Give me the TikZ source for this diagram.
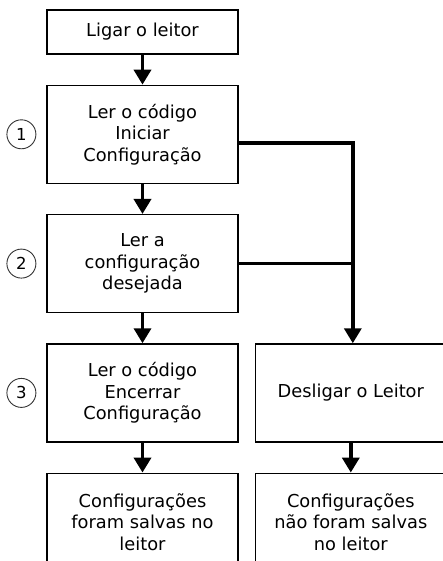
\documentclass[tikz,border=0pt]{standalone}
\usepackage{fontspec}
\setmainfont{DejaVu Sans}
\usetikzlibrary{arrows.meta,positioning}
\tikzset{
    >={Triangle[width=17pt,length=15pt]},
    stepbox/.style={rectangle,draw,line width=1.3pt,minimum width=191pt,minimum height=98pt,
        align=center,inner sep=2pt,font=\fontsize{17.8pt}{21.5pt}\selectfont},
    numcirc/.style={circle,draw=black!80,line width=0.9pt,minimum size=29pt,inner sep=0pt,
        font=\fontsize{16.5pt}{16.5pt}\selectfont},
    conn/.style={line width=3.6pt}
}
\begin{document}
\begin{tikzpicture}[x=1pt,y=-1pt,node distance=30pt]
    \path[use as bounding box,clip] (0,0) rectangle (443,561);
    \node[stepbox,minimum height=44pt] (liga) at (142.5,32) {Ligar o leitor};
    \node[stepbox,below=of liga] (cod1) {Ler o código\\Iniciar\\Configuração};
    \node[stepbox,below=of cod1] (cfg) {Ler a\\configuração\\desejada};
    \node[stepbox,below=of cfg] (cod3) {Ler o código\\Encerrar\\Configuração};
    \node[stepbox,below=of cod3] (salvas) {Configurações\\foram salvas no\\leitor};
    \node[stepbox,right=16pt of cod3] (desl) {Desligar o Leitor};
    \node[stepbox,below=of desl] (naosalvas) {Configurações\\não foram salvas\\no leitor};

    \node[numcirc,left=10pt of cod1] (n1) {1};
    \node[numcirc,left=10pt of cfg] (n2) {2};
    \node[numcirc,left=10pt of cod3] (n3) {3};

    \coordinate (drop) at ([xshift=2pt]desl.north);
    \draw[conn,->] (liga) -- (cod1);
    \draw[conn,->] (cod1) -- (cfg);
    \draw[conn,->] (cfg) -- (cod3);
    \draw[conn,->] (cod3) -- (salvas);
    \draw[conn,->] (desl) -- (naosalvas);
    \draw[conn,->] ([yshift=-9pt]cod1.east) -| (drop);
    \draw[conn] (cfg.east) -- (cfg.east -| drop);
\end{tikzpicture}
\end{document}
